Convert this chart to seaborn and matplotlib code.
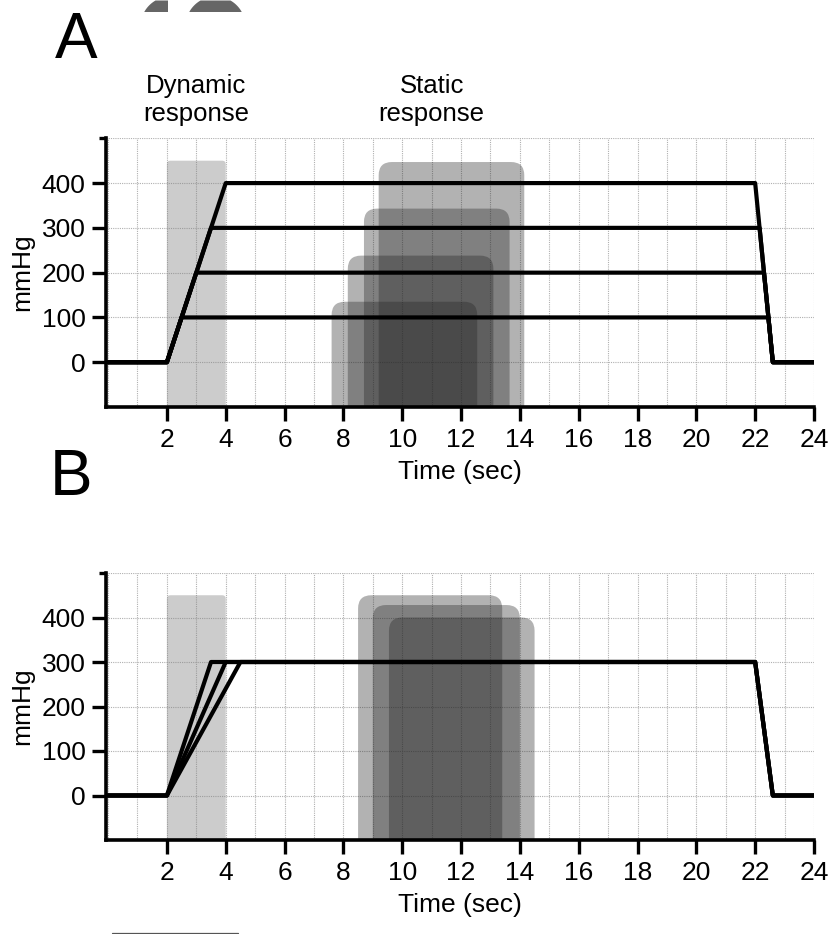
import matplotlib
matplotlib.use("Agg")
import numpy as np
import pandas as pd
import matplotlib.pyplot as plt
import seaborn as sns
from matplotlib.patches import FancyBboxPatch
from matplotlib.ticker import FixedLocator, MultipleLocator

# ---- pressure protocols -------------------------------------------------
# Panel A: four plateau pressures reached along one common ramp
a_levels = [100, 200, 300, 400]
a_rise_end = [2.5, 3.0, 3.5, 4.0]
a_fall_start = [22.45, 22.3, 22.15, 22.0]

# Panel B: one plateau pressure reached with three ramp speeds
b_levels = [300, 300, 300]
b_rise_end = [3.5, 4.0, 4.5]
b_fall_start = [22.0, 22.0, 22.0]

rise_start = 2.0
fall_end = 22.6
t_end = 24.0

# ---- response windows ---------------------------------------------------
dyn_start, dyn_stop, dyn_top = 2.0, 4.0, 450

a_static_start = [7.6, 8.15, 8.7, 9.2]
a_static_stop = [12.55, 13.1, 13.65, 14.15]
a_static_top = [135, 238, 343, 447]

b_static_start = [8.5, 9.0, 9.55]
b_static_stop = [13.4, 14.0, 14.5]
b_static_top = [450, 428, 400]

x_ticks = list(range(2, 25, 2))
y_ticks = [0, 100, 200, 300, 400]
y_top = 500
y_bottom = -100


def protocol_frame(levels, rise_end, fall_start):
    rows = []
    for i, (p, r, f) in enumerate(zip(levels, rise_end, fall_start)):
        pts = [(0.0, 0), (rise_start, 0), (r, p), (f, p), (fall_end, 0), (t_end, 0)]
        for t, v in pts:
            rows.append({"trace": i, "time": t, "mmHg": v})
    return pd.DataFrame(rows)


sns.set_theme(style="white")
plt.rcParams["font.family"] = ["Liberation Sans", "DejaVu Sans"]

W, H = 831, 934
fig = plt.figure(figsize=(W / 100, H / 100), dpi=100)

ax_left = 106.3
ax_right = 814.0
axA = fig.add_axes([ax_left / W, 1 - 407 / H, (ax_right - ax_left) / W, (407 - 138.3) / H])
axB = fig.add_axes([ax_left / W, 1 - 840 / H, (ax_right - ax_left) / W, (840 - 573) / H])

xlim = (-0.06, 24.0)
label_size = 19


def style_axes(ax):
    ax.set_xlim(*xlim)
    ax.set_ylim(y_bottom, y_top)
    ax.xaxis.set_major_locator(FixedLocator(x_ticks))
    ax.xaxis.set_minor_locator(MultipleLocator(1))
    ax.yaxis.set_major_locator(FixedLocator(y_ticks))
    ax.yaxis.set_minor_locator(FixedLocator([y_top]))
    ax.set_axisbelow(True)
    ax.grid(which="both", linestyle=(0, (1, 1)), color="#b0b0b0", linewidth=0.8)
    ax.tick_params(which="major", direction="out", length=10, width=2.4,
                   color="black", labelsize=label_size, labelcolor="black")
    ax.tick_params(axis="x", which="major", pad=5, bottom=True)
    ax.tick_params(axis="y", which="major", pad=5, left=True)
    ax.tick_params(axis="x", which="minor", length=0)
    ax.tick_params(axis="y", which="minor", length=5, width=2.4, left=True, color="black")
    for side in ("top", "right"):
        ax.spines[side].set_visible(False)
    for side in ("left", "bottom"):
        ax.spines[side].set_visible(True)
        ax.spines[side].set_linewidth(2.6)
        ax.spines[side].set_color("black")
    ax.set_facecolor("white")


def data_aspect(ax):
    bb = ax.get_position()
    xpp = (xlim[1] - xlim[0]) / (bb.width * W)
    ypp = (y_top - y_bottom) / (bb.height * H)
    return ypp / xpp


def add_window(ax, x0, x1, top, color, alpha, radius):
    base = y_bottom - 60
    box = FancyBboxPatch((x0, base), x1 - x0, top - base,
                         boxstyle=f"round,pad=0,rounding_size={radius}",
                         mutation_aspect=data_aspect(ax),
                         facecolor=color, edgecolor="none", linewidth=0,
                         alpha=alpha, zorder=1)
    ax.add_patch(box)


for ax in (axA, axB):
    style_axes(ax)
    add_window(ax, dyn_start, dyn_stop, dyn_top, "#808080", 0.4, 0.12)

for x0, x1, top in zip(a_static_start, a_static_stop, a_static_top):
    add_window(axA, x0, x1, top, "#232323", 0.35, 0.45)
for x0, x1, top in zip(b_static_start, b_static_stop, b_static_top):
    add_window(axB, x0, x1, top, "#232323", 0.35, 0.45)

sns.lineplot(data=protocol_frame(a_levels, a_rise_end, a_fall_start),
             x="time", y="mmHg", units="trace", estimator=None, sort=False,
             color="black", linewidth=3.0, legend=False, ax=axA, zorder=3)
sns.lineplot(data=protocol_frame(b_levels, b_rise_end, b_fall_start),
             x="time", y="mmHg", units="trace", estimator=None, sort=False,
             color="black", linewidth=3.0, legend=False, ax=axB, zorder=3)
for ax in (axA, axB):
    ax.set_xlabel("Time (sec)", fontsize=label_size, labelpad=6, color="black")
    ax.set_ylabel("mmHg", fontsize=label_size, labelpad=5, color="black")
    ax.set_xlim(*xlim)
    ax.set_ylim(y_bottom, y_top)

# window captions above panel A
for x, caption in ((3.0, "Dynamic\nresponse"), (11.0, "Static\nresponse")):
    axA.text(x, 539, caption, ha="center", va="baseline", fontsize=18.5,
             linespacing=1.2, multialignment="center", color="black", clip_on=False)

# panel letters
fig.text(55 / W, 1 - 58 / H, "A", fontsize=46, ha="left", va="baseline", color="black")
fig.text(50 / W, 1 - 495 / H, "B", fontsize=46, ha="left", va="baseline", color="black")

# partial discs along the top edge (pixel-scaled strip, y grows downward)
strip_h = 11.5
strip = fig.add_axes([0, 1 - strip_h / H, 1, strip_h / H])
strip.set_xlim(0, W)
strip.set_ylim(strip_h, 0)
strip.axis("off")
disc_r, disc_cy = 30.0, 26.0
for cx, x_lo, x_hi in ((170.0, 140.0, 167.5), (215.0, 185.0, 245.0)):
    xs = np.linspace(x_lo, x_hi, 200)
    half = np.sqrt(np.clip(disc_r ** 2 - (xs - cx) ** 2, 0, None))
    upper = np.clip(disc_cy - half, 0, strip_h)
    strip.fill_between(xs, upper, strip_h, where=upper < strip_h,
                       color="#666666", linewidth=0)

# short rule along the bottom edge
rule = fig.add_axes([0, 0, 1, 3 / H])
rule.set_xlim(0, W)
rule.set_ylim(0, 3)
rule.axis("off")
rule.plot([112, 238], [0.7, 0.7], color="#555555", linewidth=0.9)

fig.savefig("out.png", dpi=100, facecolor="white")
